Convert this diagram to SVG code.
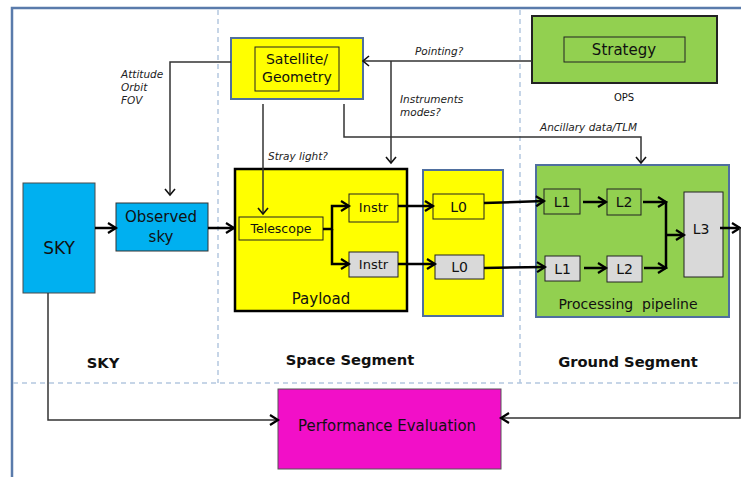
<svg xmlns="http://www.w3.org/2000/svg" width="741" height="477" viewBox="0 0 741 477">
<defs>
<style>
text{font-family:"DejaVu Sans","Liberation Sans",sans-serif;fill:#111}
.lbl{font-size:10.5px;font-style:italic;fill:#222}
.seg{font-size:14.7px;font-weight:bold;text-anchor:middle}
.c{text-anchor:middle}
.thin{fill:none;stroke:#333;stroke-width:1.5}
.thick{fill:none;stroke:#000;stroke-width:2.5}
.dash{fill:none;stroke:#b4c7e0;stroke-width:1.5;stroke-dasharray:5,4}
.yel{fill:#ffff00}
.gry{fill:#d9d9d9}
.grn{fill:#92d050}
.inner{stroke:#222;stroke-width:1}
</style>
<marker id="at" markerUnits="userSpaceOnUse" markerWidth="14" markerHeight="14" refX="11" refY="7" orient="auto" overflow="visible">
<path d="M5,2 L11,7 L5,12" fill="none" stroke="#111" stroke-width="1.6"/>
</marker>
<marker id="ah" markerUnits="userSpaceOnUse" markerWidth="14" markerHeight="14" refX="12" refY="7" orient="auto" overflow="visible">
<path d="M4,2 L12,7 L4,12" fill="none" stroke="#000" stroke-width="2.2"/>
</marker>
</defs>
<rect x="0" y="0" width="741" height="477" fill="#fff"/>
<rect x="12" y="8" width="760" height="500" fill="#fff" stroke="#5a7bab" stroke-width="2.5"/>
<g id="dividers">
<line class="dash" x1="218" y1="10" x2="218" y2="383"/>
<line class="dash" x1="520" y1="10" x2="520" y2="383"/>
<line class="dash" x1="13" y1="383" x2="741" y2="383"/>
</g>
<g id="sky">
<rect x="23" y="183" width="72" height="110" fill="#00b0f0" stroke="#4a4a4a" stroke-width="1"/>
<text x="59" y="254" class="c" font-size="17">SKY</text>
</g>
<g id="observed-sky">
<rect x="116" y="203" width="92" height="48" fill="#00b0f0" stroke="#333" stroke-width="1"/>
<text x="161" y="222" class="c" font-size="15">Observed</text>
<text x="161" y="242" class="c" font-size="15">sky</text>
</g>
<g id="satellite">
<rect x="231" y="38" width="132" height="61" class="yel" stroke="#4f6f9f" stroke-width="2"/>
<rect x="255" y="47" width="84" height="44" class="yel inner"/>
<text x="297" y="64" class="c" font-size="14">Satellite/</text>
<text x="297" y="82" class="c" font-size="14">Geometry</text>
</g>
<g id="strategy">
<rect x="532" y="16" width="185" height="67" class="grn" stroke="#222" stroke-width="2"/>
<rect x="564" y="37" width="121" height="25" class="grn inner"/>
<text x="624" y="55" class="c" font-size="15">Strategy</text>
<text x="624" y="101" class="c" font-size="10">OPS</text>
</g>
<g id="payload">
<rect x="235" y="169" width="172" height="142" class="yel" stroke="#000" stroke-width="2.5"/>
<text x="321" y="304" class="c" font-size="15">Payload</text>
</g>
<g id="telescope">
<rect x="239" y="217" width="84" height="23" class="yel inner"/>
<text x="281" y="233" class="c" font-size="12.5">Telescope</text>
</g>
<g id="instr1">
<rect x="349" y="194" width="49" height="28" class="yel inner"/>
<text x="373.5" y="212" class="c" font-size="13">Instr</text>
</g>
<g id="instr2">
<rect x="349" y="252" width="49" height="25" class="gry inner"/>
<text x="373.5" y="269" class="c" font-size="13">Instr</text>
</g>
<g id="l0-container">
<rect x="423" y="170" width="80" height="146" class="yel" stroke="#4f6f9f" stroke-width="2"/>
</g>
<g id="l0a">
<rect x="433" y="194" width="51" height="25" class="yel inner"/>
<text x="458.5" y="212" class="c" font-size="14">L0</text>
</g>
<g id="l0b">
<rect x="435" y="255" width="49" height="24" class="gry inner"/>
<text x="459.5" y="272" class="c" font-size="14">L0</text>
</g>
<g id="pipeline">
<rect x="536" y="165" width="193" height="152" class="grn" stroke="#4f6f9f" stroke-width="2"/>
<text x="628" y="309" class="c" font-size="14" xml:space="preserve">Processing  pipeline</text>
</g>
<g id="l1a">
<rect x="544" y="189" width="36" height="25" class="grn inner"/>
<text x="562" y="207" class="c" font-size="14">L1</text>
</g>
<g id="l2a">
<rect x="607" y="189" width="34" height="26" class="grn inner"/>
<text x="624" y="207" class="c" font-size="14">L2</text>
</g>
<g id="l1b">
<rect x="545" y="256" width="35" height="25" class="gry inner"/>
<text x="562.5" y="274" class="c" font-size="14">L1</text>
</g>
<g id="l2b">
<rect x="607" y="256" width="35" height="26" class="gry inner"/>
<text x="624.5" y="274" class="c" font-size="14">L2</text>
</g>
<g id="l3">
<rect x="684" y="192" width="39" height="85" class="gry inner"/>
<text x="701" y="234" class="c" font-size="14">L3</text>
</g>
<g id="perf">
<rect x="278" y="389" width="223" height="80" fill="#f20fc8" stroke="#555" stroke-width="1"/>
<text x="298" y="431" font-size="15" textLength="178" lengthAdjust="spacingAndGlyphs">Performance Evaluation</text>
</g>
<g id="segment-labels">
<text x="103" y="368" class="seg">SKY</text>
<text x="350" y="365" class="seg">Space Segment</text>
<text x="628" y="367" class="seg">Ground Segment</text>
</g>
<g id="connectors">
<polyline class="thin" points="231,62 170,62 170,195" marker-end="url(#at)"/>
<polyline class="thin" points="532,61 363,61" stroke="#555" marker-end="url(#at)"/>
<polyline class="thin" points="391,61 391,163" marker-end="url(#at)"/>
<polyline class="thin" points="344,104 344,137 641,137 641,163" stroke="#555" marker-end="url(#at)"/>
<polyline class="thin" points="263,104 263,214" marker-end="url(#at)"/>
<line class="thick" x1="95" y1="228" x2="116" y2="228" marker-end="url(#ah)"/>
<line class="thick" x1="208" y1="228" x2="234" y2="228" marker-end="url(#ah)"/>
<polyline class="thick" points="323,229 332,229 332,206 349,206" marker-end="url(#ah)"/>
<polyline class="thick" points="332,229 332,264 349,264" marker-end="url(#ah)"/>
<line class="thick" x1="398" y1="206" x2="433" y2="206" marker-end="url(#ah)"/>
<line class="thick" x1="398" y1="264" x2="435" y2="264" marker-end="url(#ah)"/>
<line class="thick" x1="484" y1="203" x2="544" y2="201" marker-end="url(#ah)"/>
<line class="thick" x1="484" y1="268" x2="545" y2="267" marker-end="url(#ah)"/>
<line class="thick" x1="583" y1="202" x2="606" y2="202" marker-end="url(#ah)"/>
<line class="thick" x1="584" y1="268" x2="606" y2="268" marker-end="url(#ah)"/>
<line class="thick" x1="643" y1="202" x2="666" y2="202" marker-end="url(#ah)"/>
<line class="thick" x1="644" y1="268" x2="666" y2="268" marker-end="url(#ah)"/>
<line class="thick" x1="666" y1="201" x2="666" y2="269"/>
<line class="thick" x1="667" y1="235" x2="684" y2="235" marker-end="url(#ah)"/>
<line class="thick" x1="720" y1="228" x2="740" y2="228" marker-end="url(#ah)"/>
<polyline class="thin" points="740,228 740,418 501,418" stroke="#000" stroke-width="2" marker-end="url(#ah)"/>
<polyline class="thin" points="48,293 48,420 278,420" stroke="#000" stroke-width="2" marker-end="url(#ah)"/>
</g>
<g id="connector-labels">
<text x="121" y="78" class="lbl">Attitude</text>
<text x="121" y="91" class="lbl">Orbit</text>
<text x="121" y="104" class="lbl">FOV</text>
<text x="415" y="55" class="lbl">Pointing?</text>
<text x="400" y="103" class="lbl">Instruments</text>
<text x="400" y="116" class="lbl">modes?</text>
<text x="540" y="131" class="lbl">Ancillary data/TLM</text>
<text x="268" y="160" class="lbl">Stray light?</text>
</g>
</svg>
